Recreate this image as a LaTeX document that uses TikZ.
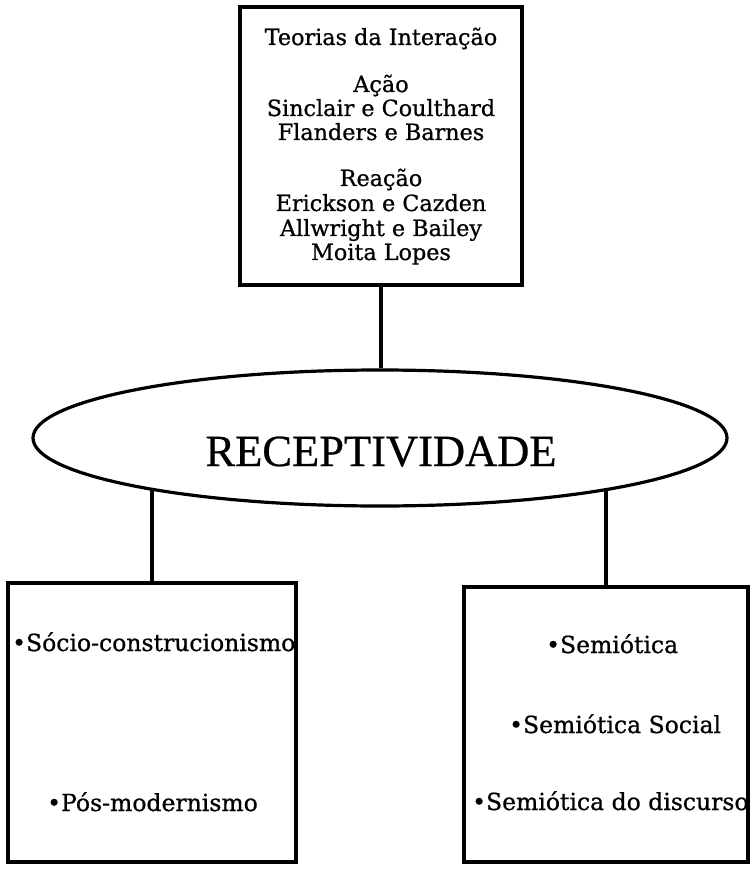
\documentclass[tikz,border=0pt]{standalone}
\usepackage{fontspec}
\setmainfont{DejaVu Serif}[FakeBold=0.8]
\newfontfamily\recfont{Liberation Serif}[FakeBold=0.6]
\usetikzlibrary{shapes.geometric}
\begin{document}
\begin{tikzpicture}[x=1pt,y=-1pt,
  boxstyle/.style={draw, line width=3.2pt, rectangle, inner sep=0pt},
  topline/.style={anchor=base, inner sep=0pt, font=\fontsize{22.3}{26}\selectfont},
  item/.style={anchor=base west, inner sep=0pt, font=\fontsize{23.5}{28}\selectfont},
  link/.style={line width=3.2pt}]
\useasboundingbox (0,0) rectangle (750,874);
% top box
\node[boxstyle, minimum width=282pt, minimum height=278pt] (top) at (381,146) {};
\node[topline] (t1) at (381,45) {Teorias da Interação};
\node[topline] (t2) at (381,92) {Ação};
\node[topline] (t3) at (381,116) {Sinclair e Coulthard};
\node[topline] (t4) at (381,140) {Flanders e Barnes};
\node[topline] (t5) at (381,186) {Reação};
\node[topline] (t6) at (381,211) {Erickson e Cazden};
\node[topline] (t7) at (381,236) {Allwright e Bailey};
\node[topline] (t8) at (381,260) {Moita Lopes};
% ellipse
\node[draw, ellipse, line width=3.2pt, minimum width=694pt, minimum height=136pt, inner sep=0pt] (ell) at (380,438) {};
\node[inner sep=0pt, anchor=base, font=\recfont\fontsize{44.5}{50}\selectfont] (rec) at (381,466) {RECEPTIVIDADE};
% bottom boxes
\node[boxstyle, minimum width=288pt, minimum height=279pt] (lbox) at (152,722.5) {};
\node[boxstyle, minimum width=284pt, minimum height=275pt] (rbox) at (606,724.5) {};
\node[item] (l1) at (12,651) {•Sócio-construcionismo};
\node[item] (l2) at (47,811) {•Pós-modernismo};
\node[item] (r1) at (546,653) {•Semiótica};
\node[item] (r2) at (509,733) {•Semiótica Social};
\node[item] (r3) at (472,810) {•Semiótica do discurso};
% connectors
\draw[link] (top.south) -- (top.south |- ell.north);
\draw[link] (lbox.north) -- (lbox.north |- ell.192.7);
\draw[link] (rbox.north) -- (rbox.north |- ell.347.3);
\end{tikzpicture}
\end{document}
